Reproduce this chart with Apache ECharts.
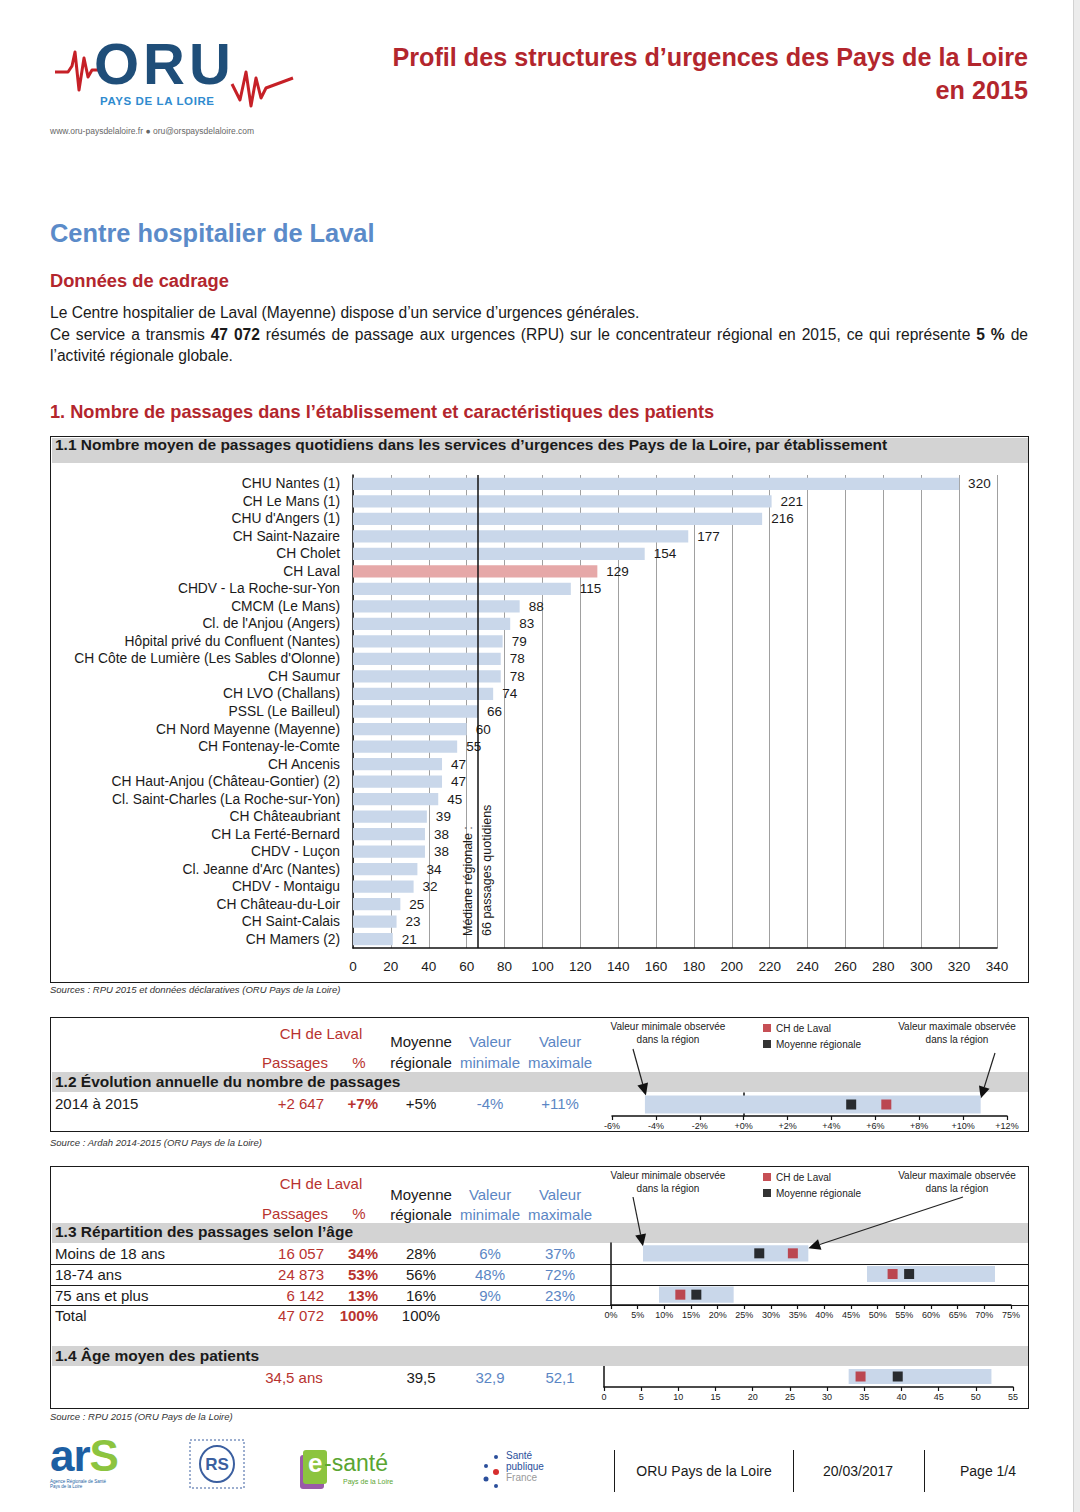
<!DOCTYPE html>
<html><head><meta charset="utf-8">
<script src="https://cdn.jsdelivr.net/npm/echarts@6/dist/echarts.min.js"></script>
<style>
body{margin:0;background:#fff;}
#page{position:relative;width:1080px;height:1512px;overflow:hidden;background:#fff;font-family:"Liberation Sans",Arial,sans-serif;color:#1a1a1a;}
.t{position:absolute;white-space:nowrap;line-height:1;transform:translateY(-50%);}
.c{position:absolute;white-space:nowrap;line-height:1;transform:translate(-50%,-50%);}
.nar{font-family:"Liberation Sans Narrow","Arial Narrow","Liberation Sans",sans-serif;}
.b{font-weight:bold;}
.red{color:#b8332f;}
.blue{color:#5b86c4;}
.box{position:absolute;box-sizing:border-box;border:1.5px solid #1a1a1a;}
.band{position:absolute;background:#d3d3d3;}
.hl{position:absolute;height:1.5px;background:#1a1a1a;}
.vl{position:absolute;width:1.5px;background:#1a1a1a;}
.src{position:absolute;font-style:italic;font-size:9.5px;color:#333;white-space:nowrap;line-height:1;transform:translateY(-50%);}
.tb{font-size:15px;}
.lg{font-size:10px;color:#222;text-align:center;line-height:13px;}
.chart{position:absolute;}
</style>
</head>
<body>
<div id="page">
  <!-- page edge -->
  <div style="position:absolute;left:1073px;top:0;width:7px;height:1512px;background:#ececec;border-left:1px solid #d2d2d2;"></div>

  <!-- ORU logo -->
  <svg style="position:absolute;left:0;top:0" width="320" height="140">
    <polyline points="55,72 68,72 72,66 75,52 79,90 84,58 88,77 92,70 98,70" fill="none" stroke="#c62027" stroke-width="3" stroke-linejoin="round"/>
    <polyline points="232,84 240,100 246,72 251,106 256,78 261,98 266,88 293,78" fill="none" stroke="#c62027" stroke-width="3" stroke-linejoin="round"/>
  </svg>
  <div class="t b" style="left:94px;top:64px;font-size:58px;line-height:0.72;color:#1f4e79;letter-spacing:4px;">ORU</div>
  <div class="t b" style="left:100px;top:102px;font-size:11.5px;color:#2f8bcf;letter-spacing:0.6px;">PAYS DE LA LOIRE</div>
  <div class="t" style="left:50px;top:131px;font-size:8.5px;color:#666;">www.oru-paysdelaloire.fr ● oru@orspaysdelaloire.com</div>

  <!-- Title -->
  <div class="t nar b" style="right:52px;top:58px;font-size:25.2px;color:#b3262d;">Profil des structures d’urgences des Pays de la Loire</div>
  <div class="t nar b" style="right:52px;top:91px;font-size:25.2px;color:#b3262d;">en 2015</div>

  <div class="t nar b" style="left:50px;top:234px;font-size:25.4px;color:#5b8bc9;">Centre hospitalier de Laval</div>
  <div class="t nar b" style="left:50px;top:281px;font-size:18.3px;color:#b3262d;">Données de cadrage</div>
  <div class="t nar" style="left:50px;top:313px;font-size:15.6px;">Le Centre hospitalier de Laval (Mayenne) dispose d’un service d’urgences générales.</div>
  <div class="t nar" style="left:50px;top:335px;width:978px;font-size:15.6px;text-align:justify;text-align-last:justify;">Ce service a transmis <b>47 072</b> résumés de passage aux urgences (RPU) sur le concentrateur régional en 2015, ce qui représente <b>5 %</b> de</div>
  <div class="t nar" style="left:50px;top:356px;font-size:15.6px;">l’activité régionale globale.</div>
  <div class="t nar b" style="left:50px;top:412px;font-size:18.2px;color:#b3262d;">1. Nombre de passages dans l’établissement et caractéristiques des patients</div>

  <!-- Box 1.1 -->
  <div class="box" style="left:50px;top:436px;width:979px;height:547px;"></div>
  <div class="band" style="left:51.5px;top:437.5px;width:976px;height:25.5px;"></div>
  <div class="t b" style="left:55px;top:445px;font-size:15.5px;">1.1 Nombre moyen de passages quotidiens dans les services d’urgences des Pays de la Loire, par établissement</div>
  <div id="main" class="chart" style="left:51px;top:464px;width:976px;height:517px;"></div>
  <div class="src" style="left:50px;top:990px;">Sources : RPU 2015 et données déclaratives (ORU Pays de la Loire)</div>

  <!-- Box 1.2 -->
  <div class="box" style="left:50px;top:1017px;width:979px;height:115px;"></div>
  <div class="band" style="left:51.5px;top:1072px;width:976px;height:20px;"></div>
  <div class="c tb red" style="left:321px;top:1033px;">CH de Laval</div>
  <div class="c tb red" style="left:295px;top:1062px;">Passages</div>
  <div class="c tb red" style="left:359px;top:1062px;">%</div>
  <div class="c tb" style="left:421px;top:1041px;">Moyenne</div>
  <div class="c tb" style="left:421px;top:1062px;">régionale</div>
  <div class="c tb blue" style="left:490px;top:1041px;">Valeur</div>
  <div class="c tb blue" style="left:490px;top:1062px;">minimale</div>
  <div class="c tb blue" style="left:560px;top:1041px;">Valeur</div>
  <div class="c tb blue" style="left:560px;top:1062px;">maximale</div>
  <div class="t b" style="left:55px;top:1082px;font-size:15.5px;">1.2 Évolution annuelle du nombre de passages</div>
  <div class="c lg" style="left:668px;top:1033px;">Valeur minimale observée<br>dans la région</div>
  <div class="c lg" style="left:957px;top:1033px;">Valeur maximale observée<br>dans la région</div>
  <div id="evo" class="chart" style="left:600px;top:1018px;width:427px;height:113px;"></div>
  <div class="src" style="left:50px;top:1143px;">Source : Ardah 2014-2015 (ORU Pays de la Loire)</div>

  <!-- Box 1.3 / 1.4 -->
  <div class="box" style="left:50px;top:1166px;width:979px;height:243px;"></div>
  <div class="band" style="left:51.5px;top:1223px;width:976px;height:20px;"></div>
  <div class="band" style="left:51.5px;top:1346px;width:976px;height:20px;"></div>
  <div class="hl" style="left:51px;top:1263.5px;width:977px;"></div>
  <div class="hl" style="left:51px;top:1284.5px;width:977px;"></div>
  <div class="hl" style="left:51px;top:1304.5px;width:977px;"></div>
  <div class="c tb red" style="left:321px;top:1183px;">CH de Laval</div>
  <div class="c tb red" style="left:295px;top:1213px;">Passages</div>
  <div class="c tb red" style="left:359px;top:1213px;">%</div>
  <div class="c tb" style="left:421px;top:1194px;">Moyenne</div>
  <div class="c tb" style="left:421px;top:1214px;">régionale</div>
  <div class="c tb blue" style="left:490px;top:1194px;">Valeur</div>
  <div class="c tb blue" style="left:490px;top:1214px;">minimale</div>
  <div class="c tb blue" style="left:560px;top:1194px;">Valeur</div>
  <div class="c tb blue" style="left:560px;top:1214px;">maximale</div>
  <div class="t b" style="left:55px;top:1232px;font-size:15.5px;">1.3 Répartition des passages selon l’âge</div>
  <div class="t b" style="left:55px;top:1356px;font-size:15.5px;">1.4 Âge moyen des patients</div>
  <div class="c lg" style="left:668px;top:1182px;">Valeur minimale observée<br>dans la région</div>
  <div class="c lg" style="left:957px;top:1182px;">Valeur maximale observée<br>dans la région</div>
  <div id="age" class="chart" style="left:600px;top:1166px;width:427px;height:164px;"></div>
  <div id="agemean" class="chart" style="left:590px;top:1366px;width:437px;height:42px;"></div>
  <div class="src" style="left:50px;top:1417px;">Source : RPU 2015 (ORU Pays de la Loire)</div>

  <!-- Footer logos -->
  <div class="t b" style="left:50px;top:1455px;font-size:44px;line-height:0.75;color:#1d5fa3;letter-spacing:-1px;">ar<span style="color:#8cc43f;">S</span></div>
  <div class="t" style="left:50px;top:1484px;font-size:4.5px;color:#1d5fa3;line-height:5px;">Agence Régionale de Santé<br>Pays de la Loire</div>
  <svg style="position:absolute;left:188px;top:1438px" width="60" height="52">
    <rect x="2" y="2" width="54" height="48" fill="none" stroke="#3b5fa0" stroke-width="1" stroke-dasharray="2,2"/>
    <ellipse cx="29" cy="26" rx="17" ry="18" fill="none" stroke="#3b5fa0" stroke-width="2"/>
  </svg>
  <div class="c b" style="left:217px;top:1464px;font-size:17px;color:#3b5fa0;">RS</div>
  <svg style="position:absolute;left:298px;top:1445px" width="30" height="46">
    <rect x="2" y="10" width="24" height="34" rx="3" fill="#9a5aa8"/>
    <rect x="5" y="5" width="24" height="34" rx="3" fill="#8cc43f"/>
  </svg>
  <div class="t b" style="left:308px;top:1463px;font-size:26px;color:#fff;">e</div>
  <div class="t" style="left:324px;top:1463px;font-size:23px;color:#5aa532;">-santé</div>
  <div class="t" style="left:343px;top:1481px;font-size:7px;color:#5aa532;">Pays de la Loire</div>
  <svg style="position:absolute;left:478px;top:1452px" width="30" height="40">
    <circle cx="18" cy="5" r="2" fill="#2b4f9b"/><circle cx="8" cy="14" r="2" fill="#2b4f9b"/>
    <circle cx="18" cy="20" r="3" fill="#d62d2d"/><circle cx="8" cy="27" r="2.5" fill="#2b4f9b"/>
    <circle cx="18" cy="34" r="2" fill="#2b4f9b"/>
  </svg>
  <div class="t nar" style="left:506px;top:1466px;font-size:10px;color:#2b4f9b;line-height:11px;">Santé<br>publique<br><span style="color:#999;">France</span></div>
  <div class="vl" style="left:613.5px;top:1450px;height:42px;"></div>
  <div class="vl" style="left:792.5px;top:1450px;height:42px;"></div>
  <div class="vl" style="left:923.5px;top:1450px;height:42px;"></div>
  <div class="c nar" style="left:704px;top:1471px;font-size:14px;">ORU Pays de la Loire</div>
  <div class="c nar" style="left:858px;top:1471px;font-size:14px;">20/03/2017</div>
  <div class="c nar" style="left:988px;top:1471px;font-size:14px;">Page 1/4</div>
</div>

<script>
// ---------- DATA ----------
const hospitals = ['CHU Nantes (1)','CH Le Mans (1)','CHU d\'Angers (1)','CH Saint-Nazaire','CH Cholet','CH Laval','CHDV - La Roche-sur-Yon','CMCM (Le Mans)','Cl. de l\'Anjou (Angers)','Hôpital privé du Confluent (Nantes)','CH Côte de Lumière (Les Sables d\'Olonne)','CH Saumur','CH LVO (Challans)','PSSL (Le Bailleul)','CH Nord Mayenne (Mayenne)','CH Fontenay-le-Comte','CH Ancenis','CH Haut-Anjou (Château-Gontier) (2)','Cl. Saint-Charles (La Roche-sur-Yon)','CH Châteaubriant','CH La Ferté-Bernard','CHDV - Luçon','Cl. Jeanne d\'Arc (Nantes)','CHDV - Montaigu','CH Château-du-Loir','CH Saint-Calais','CH Mamers (2)'];
const dailyPassages = [320,221,216,177,154,129,115,88,83,79,78,78,74,66,60,55,47,47,45,39,38,38,34,32,25,23,21];
const highlightHospital = 'CH Laval';
const regionalMedian = 66;
const medianTexts = ['Médiane régionale :','66 passages quotidiens'];
const mainAxis = {min:0,max:340,interval:20};

// 1.2 evolution
const evoRows = ['2014 à 2015'];
const evoPassages = ['+2 647'];
const evoPctText = ['+7%'];
const evoMeanText = ['+5%'];
const evoMinText = ['-4%'];
const evoMaxText = ['+11%'];
const evoLaval = [6.5];
const evoMean = [4.9];
const evoMin = [-4.5];
const evoMax = [10.8];
const evoAxis = {min:-6,max:12,interval:2};

// 1.3 age groups
const ageGroups = ['Moins de 18 ans','18-74 ans','75 ans et plus'];
const agePassagesText = ['16 057','24 873','6 142'];
const agePctText = ['34%','53%','13%'];
const ageMeanText = ['28%','56%','16%'];
const ageMinText = ['6%','48%','9%'];
const ageMaxText = ['37%','72%','23%'];
const ageLaval = [34.1,52.8,13.0];
const ageMean = [27.8,55.9,16.0];
const ageMin = [6.0,48.0,9.0];
const ageMax = [37.0,72.0,23.0];
const ageTotal = ['Total','47 072','100%','100%'];
const ageAxis = {min:0,max:75,interval:5};

// 1.4 mean age
const meanAgeRow = ['Âge moyen'];
const meanAgeTexts = ['34,5 ans','39,5','32,9','52,1'];
const meanAgeLaval = [34.5];
const meanAgeMean = [39.5];
const meanAgeMin = [32.9];
const meanAgeMax = [52.1];
const meanAgeAxis = {min:0,max:55,interval:5};

// ---------- COLORS ----------
const F = 'Liberation Sans, Arial, sans-serif';
const BAR = '#c9d7ea', BAR_HL = '#e6a8a8', RED = '#b8232a', BLACK = '#000';

// ---------- TABLE ROWS (HTML text) ----------
function addText(parent, cls, style, txt){
  const d=document.createElement('div'); d.className=cls; d.setAttribute('style',style); d.textContent=txt; parent.appendChild(d);
}
const page=document.getElementById('page');
function tableRow(cy,label,pass,pct,mean,mn,mx,pctBold){
  if(label) addText(page,'t tb',`left:55px;top:${cy}px;`,label);
  if(pass) addText(page,'t tb red',`right:${1080-324}px;top:${cy}px;`,pass);
  if(pct) addText(page,'t tb red'+(pctBold?' b':''),`right:${1080-378}px;top:${cy}px;`,pct);
  if(mean) addText(page,'c tb',`left:421px;top:${cy}px;`,mean);
  if(mn) addText(page,'c tb blue',`left:490px;top:${cy}px;`,mn);
  if(mx) addText(page,'c tb blue',`left:560px;top:${cy}px;`,mx);
}
evoRows.forEach((r,i)=>tableRow(1103+i*21,r,evoPassages[i],evoPctText[i],evoMeanText[i],evoMinText[i],evoMaxText[i],true));
ageGroups.forEach((r,i)=>tableRow(1253+i*21,r,agePassagesText[i],agePctText[i],ageMeanText[i],ageMinText[i],ageMaxText[i],true));
tableRow(1315,ageTotal[0],ageTotal[1],ageTotal[2],ageTotal[3],'','',true);
addText(page,'c tb red','left:294px;top:1377px;',meanAgeTexts[0]);
tableRow(1377,'','','',meanAgeTexts[1],meanAgeTexts[2],meanAgeTexts[3],false);

// ---------- MAIN BAR CHART ----------
const main = echarts.init(document.getElementById('main'), null, {renderer:'svg'});
const mainGrid = {left:302,right:30,top:11,bottom:33};
main.setOption({
  animation:false,
  textStyle:{fontFamily:F},
  grid:mainGrid,
  xAxis:{type:'value',min:mainAxis.min,max:mainAxis.max,interval:mainAxis.interval,
    axisLine:{show:true,lineStyle:{color:'#111',width:1.5}},axisTick:{show:false},
    splitLine:{show:true,lineStyle:{color:'#a0a0a0',width:1}},
    axisLabel:{color:'#1a1a1a',fontSize:13.5,margin:11,fontFamily:F}},
  yAxis:{type:'category',data:hospitals,inverse:true,
    axisLine:{show:true,lineStyle:{color:'#111',width:1.5}},axisTick:{show:false},
    axisLabel:{interval:0,color:'#1a1a1a',fontSize:13.8,margin:13,fontFamily:F}},
  series:[{type:'bar',barCategoryGap:'30%',
    data:dailyPassages.map((v,i)=>({value:v,itemStyle:{color:hospitals[i]===highlightHospital?BAR_HL:BAR}})),
    label:{show:true,position:'right',distance:9,color:'#1a1a1a',fontSize:13.5,fontFamily:F},
    markLine:{silent:true,symbol:'none',animation:false,label:{show:false},
      lineStyle:{color:'#111',width:1.5,type:'solid'},data:[{xAxis:regionalMedian}]}}]
});
(function(){
  const mx = main.convertToPixel({xAxisIndex:0}, regionalMedian);
  const bottomY = main.getHeight() - mainGrid.bottom - 12;
  main.setOption({graphic:[
    {type:'text',x:mx-10,y:bottomY,rotation:Math.PI/2,style:{text:medianTexts[0],fill:'#1a1a1a',font:'12.5px '+F,textAlign:'left',textVerticalAlign:'middle'}},
    {type:'text',x:mx+9,y:bottomY,rotation:Math.PI/2,style:{text:medianTexts[1],fill:'#1a1a1a',font:'12.5px '+F,textAlign:'left',textVerticalAlign:'middle'}}
  ]});
})();

// ---------- RANGE CHART helper ----------
function rangeSeries(mins,maxs,ratio){
  return {type:'custom',name:'range',silent:true,z:1,
    data:mins.map((m,i)=>[i,m,maxs[i]]),
    encode:{x:[1,2],y:0},
    renderItem:(p,api)=>{
      const s=api.coord([api.value(1),api.value(0)]);
      const e=api.coord([api.value(2),api.value(0)]);
      const h=api.size([0,1])[1]*ratio;
      return {type:'rect',shape:{x:s[0],y:s[1]-h/2,width:e[0]-s[0],height:h},style:{fill:BAR}};
    }};
}
function pointSeries(name,vals,color){
  return {type:'scatter',name:name,symbol:'rect',symbolSize:10,z:3,itemStyle:{color:color},
    data:vals.map((v,i)=>[v,i])};
}
function arrow(x1,y1,x2,y2){
  const dx=x2-x1, dy=y2-y1, L=Math.hypot(dx,dy), ux=dx/L, uy=dy/L;
  const hl=12, hw=5.5, bx=x2-ux*hl, by=y2-uy*hl;
  return [
    {type:'line',shape:{x1:x1,y1:y1,x2:bx,y2:by},style:{stroke:'#222',lineWidth:1.2}},
    {type:'polygon',shape:{points:[[x2,y2],[bx-uy*hw,by+ux*hw],[bx+uy*hw,by-ux*hw]]},style:{fill:'#111'}}
  ];
}
function rangeChart(id,cats,mins,maxs,laval,mean,axis,grid,ratio,fmt,legendTop){
  const ch = echarts.init(document.getElementById(id), null, {renderer:'svg'});
  const opt = {
    animation:false,
    textStyle:{fontFamily:F},
    grid:grid,
    xAxis:{type:'value',min:axis.min,max:axis.max,interval:axis.interval,
      axisLine:{show:true,onZero:false,lineStyle:{color:'#111',width:1.5}},
      axisTick:{show:true,length:4,lineStyle:{color:'#111',width:1.2}},
      splitLine:{show:false},
      axisLabel:{color:'#222',fontSize:9,margin:5,formatter:fmt,fontFamily:F}},
    yAxis:{type:'category',data:cats,inverse:true,
      axisLine:{show:true,onZero:true,lineStyle:{color:'#111',width:1.5}},
      axisTick:{show:false},axisLabel:{show:false},splitLine:{show:false}},
    series:[rangeSeries(mins,maxs,ratio),pointSeries('Moyenne régionale',mean,BLACK),pointSeries('CH de Laval',laval,RED)]
  };
  if(legendTop!==null){
    opt.legend={data:['CH de Laval','Moyenne régionale'],orient:'vertical',left:158,top:legendTop,
      itemWidth:8,itemHeight:8,itemGap:6,icon:'rect',selectedMode:false,
      textStyle:{fontSize:10,color:'#222',fontFamily:F}};
  }
  ch.setOption(opt);
  return ch;
}
const pctFmt = v => v + '%';
const signedFmt = v => (v>=0?'+':'') + v + '%';

// 1.2
const evo = rangeChart('evo',evoRows,evoMin,evoMax,evoLaval,evoMean,evoAxis,{left:12,right:20,top:75,bottom:15},0.78,signedFmt,0);
(function(){
  const h = evo.convertToPixel({yAxisIndex:0},0);
  const band = 23*0.78/2;
  const pMin = evo.convertToPixel({xAxisIndex:0},evoMin[0]);
  const pMax = evo.convertToPixel({xAxisIndex:0},evoMax[0]);
  evo.setOption({graphic:[].concat(arrow(33,31,pMin+1,h-band),arrow(395,35,pMax,h-band+3))});
})();

// 1.3
const age = rangeChart('age',ageGroups,ageMin,ageMax,ageLaval,ageMean,ageAxis,{left:11,right:16,top:77,bottom:25},0.78,pctFmt,1);
(function(){
  const h = age.convertToPixel({yAxisIndex:0},ageGroups[0]);
  const band = (62/3)*0.78/2;
  const pMin = age.convertToPixel({xAxisIndex:0},ageMin[0]);
  const pMax = age.convertToPixel({xAxisIndex:0},ageMax[0]);
  age.setOption({graphic:[].concat(arrow(33,31,pMin,h-band+1),arrow(363,31,pMax,h-band+3))});
})();

// 1.4
rangeChart('agemean',meanAgeRow,meanAgeMin,meanAgeMax,meanAgeLaval,meanAgeMean,meanAgeAxis,{left:14,right:14,top:0,bottom:21},0.72,v=>v,null);
</script>
</body></html>
